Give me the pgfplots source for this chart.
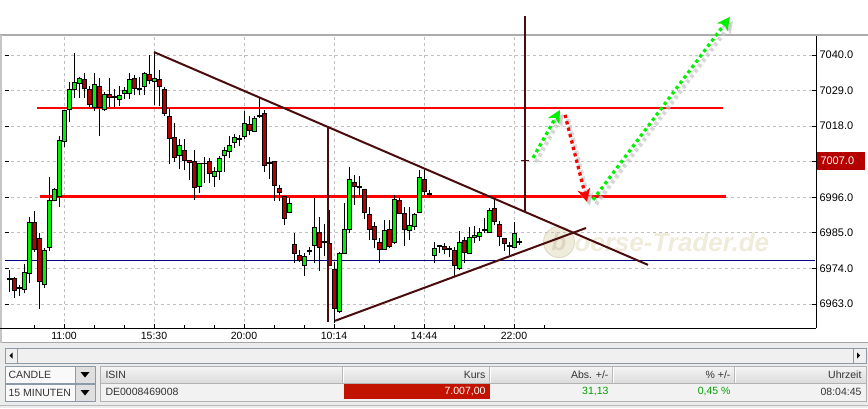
\documentclass[border=0pt]{standalone}
\usepackage{pgfplots}
\pgfplotsset{compat=1.18}
\usepackage{pgfplotstable}
\usepackage{fontspec}
\setmainfont{Liberation Sans}
\usetikzlibrary{arrows.meta}

\definecolor{cgreen}{HTML}{00F000}
\definecolor{cred}{HTML}{B40000}
\definecolor{trend}{HTML}{4A0C0C}
\definecolor{hred}{HTML}{FF0000}
\definecolor{navyline}{HTML}{000080}
\definecolor{gridc}{HTML}{C0C0C0}
\definecolor{panel}{HTML}{ECECEC}
\definecolor{uiborder}{HTML}{8C9AA8}
\definecolor{kursred}{HTML}{C21200}
\definecolor{txtgreen}{HTML}{00A000}
\definecolor{txtgray}{HTML}{333333}
\definecolor{wm}{HTML}{F0ECDC}
\definecolor{wmline}{HTML}{DDD6C0}

% i  open high low close  (green / doji)
\pgfplotstableread{
i o h l c
0 6970.5 6973.5 6966.8 6970.8
2 6967.9 6968.9 6965.5 6968.2
3 6967.5 6975.4 6966.3 6972.8
4 6972.5 6990.0 6969.4 6988.3
7 6969.1 6980.2 6967.9 6979.5
8 6980.4 7002.4 6979.5 6995.0
9 6995.0 6998.8 6994.7 6998.3
10 6996.2 7014.8 6993.1 7013.7
11 7013.2 7023.0 7011.5 7022.7
12 7023.2 7031.8 7019.4 7029.4
13 7029.4 7040.5 7026.6 7031.6
14 7031.2 7033.3 7026.6 7032.8
17 7023.8 7034.3 7022.8 7030.9
19 7023.0 7028.7 7022.7 7027.8
21 7026.9 7029.4 7024.0 7027.2
22 7026.3 7030.4 7024.2 7027.6
23 7028.2 7030.2 7026.5 7029.1
24 7028.2 7034.5 7026.5 7032.5
26 7029.4 7033.1 7027.6 7029.7
27 7030.4 7034.6 7027.6 7034.3
29 7031.8 7040.5 7024.5 7032.8
34 7009.0 7013.9 7004.7 7012.1
38 6999.3 7006.7 6997.2 7006.5
39 7006.3 7008.6 7000.5 7006.6
41 7002.4 7005.5 6999.3 7003.9
42 7003.9 7008.8 7001.4 7008.1
43 7008.9 7011.7 7003.9 7010.6
44 7010.3 7014.8 7008.1 7012.1
45 7013.0 7015.6 7011.1 7014.6
46 7014.0 7015.3 7011.9 7014.3
47 7014.8 7022.7 7013.9 7018.9
49 7016.3 7021.1 7016.2 7020.3
50 7021.1 7027.1 7020.5 7021.4
52 7006.4 7008.6 7001.6 7006.7
56 6991.3 6996.2 6991.1 6994.1
59 6974.9 6978.7 6971.8 6977.7
60 6979.2 6980.5 6978.2 6979.5
61 6981.1 6995.7 6975.6 6986.7
63 6981.9 6987.8 6977.7 6982.2
66 6960.6 6979.0 6960.3 6978.7
67 6978.7 6994.1 6978.5 6986.1
68 6986.1 7005.5 6985.1 7001.4
70 6998.9 7002.6 6996.2 6999.2
75 6980.0 6989.0 6979.8 6985.7
77 6982.0 6996.7 6981.7 6995.2
80 6985.6 6992.9 6982.8 6987.4
81 6987.1 6991.0 6985.9 6990.7
82 6991.4 7004.4 6991.2 7002.2
84 6997.0 6998.3 6995.7 6997.3
85 6978.0 6982.3 6975.8 6980.2
86 6980.9 6981.3 6978.7 6981.2
88 6979.9 6981.0 6977.6 6980.2
90 6974.0 6985.7 6973.5 6982.1
92 6978.7 6986.9 6978.5 6983.6
93 6983.6 6987.1 6981.8 6984.3
94 6983.8 6986.4 6982.6 6985.2
95 6985.6 6989.5 6985.1 6985.9
96 6985.2 6992.6 6984.9 6991.8
100 6980.9 6982.3 6978.2 6981.2
101 6980.6 6988.3 6980.4 6984.9
102 6981.9 6983.3 6981.2 6982.2
}\upcandles

% red candles
\pgfplotstableread{
i o h l c
1 6971.0 6971.3 6964.8 6967.3
5 6988.3 6991.9 6979.2 6979.9
6 6983.3 6984.9 6961.4 6969.9
15 7032.5 7034.5 7026.6 7029.7
16 7029.2 7030.4 7024.0 7024.8
18 7030.4 7032.8 7015.0 7023.7
20 7027.8 7032.8 7024.0 7026.8
25 7032.8 7033.9 7027.6 7029.7
28 7034.1 7040.0 7030.9 7032.1
30 7032.5 7035.4 7024.2 7030.2
31 7029.4 7030.2 7021.1 7021.8
32 7021.1 7023.5 7006.3 7014.2
33 7014.6 7018.9 7007.0 7008.4
35 7010.6 7013.9 7004.4 7007.3
36 7007.3 7007.5 7001.4 7006.7
37 7007.0 7010.6 6995.2 6999.1
40 7007.1 7008.1 7000.5 7003.4
48 7018.6 7021.1 7015.3 7016.6
51 7022.0 7023.0 7003.9 7005.8
53 7007.0 7007.3 6994.7 6999.5
54 6998.8 6999.8 6994.7 6997.4
55 6996.2 6996.5 6987.4 6989.5
57 6981.3 6985.1 6975.8 6978.7
58 6977.9 6979.7 6976.1 6976.3
62 6985.2 6990.0 6973.3 6980.5
64 6981.8 6992.1 6974.6 6974.8
65 6973.7 6976.0 6957.0 6961.7
69 7000.6 7002.9 6993.6 6999.3
71 6998.3 6998.5 6989.2 6991.2
72 6990.7 6993.1 6982.8 6986.1
73 6986.9 6988.5 6980.2 6983.0
74 6982.1 6983.3 6975.6 6979.7
76 6986.1 6989.0 6980.2 6980.7
78 6994.9 6996.2 6990.8 6991.1
79 6991.1 6993.1 6980.9 6986.1
83 7001.6 7005.0 6996.7 6997.8
87 6980.9 6982.0 6978.5 6979.9
89 6979.4 6980.7 6971.7 6974.8
91 6982.6 6983.8 6975.6 6979.0
97 6992.4 6995.5 6987.4 6988.5
98 6987.7 6988.8 6981.0 6984.0
99 6983.3 6983.5 6979.5 6981.6
}\downcandles

\pgfplotsset{
  candlebase/.style={only marks, mark=*, mark size=0pt,
    mark options={draw=none, fill=none}, forget plot,
    error bars/.cd, y dir=plus, y explicit, error mark=none},
  wick/.style={candlebase, /pgfplots/error bars/error bar style={draw=black, line width=1pt}},
  bodyout/.style={candlebase, /pgfplots/error bars/error bar style={draw=black, line width=5pt}},
  bodyfill/.style={candlebase, /pgfplots/error bars/error bar style={draw=#1, line width=3pt}},
}

\begin{document}
\begin{tikzpicture}[x=1pt,y=1pt]
\useasboundingbox (0,0) rectangle (868,408);
\fill[white] (0,0) rectangle (868,408);
% bottom panel
\fill[panel] (0,0) rectangle (868,65);
\draw[gray!70, line width=1pt] (0,65.5) -- (868,65.5);
% chart frame lines
\draw[gray!65, line width=1.6pt] (0,373) -- (868,373);
\draw[gray!45, line width=1.5pt] (1,65) -- (1,373);

% watermark
\fill[wm] (559,166) circle (15.5);
\draw[wmline, line width=0.8pt] (559,166) circle (15.5);
\node[wm, font=\fontsize{26}{28}\selectfont\bfseries\itshape, anchor=west] at (571,166) {oerse-Trader.de};
\node[wmline, font=\fontsize{24}{26}\selectfont\bfseries\itshape] at (559,166) {b};

\begin{axis}[
  at={(5pt,80pt)}, anchor=south west, scale only axis,
  width=811pt, height=293pt,
  xmin=-0.8, xmax=161.4, ymin=6955.58, ymax=7046.18,
  clip=false,
  axis line style={draw=none},
  xtick={11,29,47,65,83,101},
  xticklabels={11:00,15:30,20:00,10:14,14:44,22:00},
  minor xtick={5,17,23,35,41,53,59,71,77,89,95,107},
  ytick={6963,6974,...,7040},
  xtick pos=left, ytick pos=both, yticklabel pos=right,
  tick align=inside, major tick length=4pt, minor tick length=3pt,
  tick style={black, line width=0.8pt},
  xmajorgrids, ymajorgrids,
  major grid style={gridc, dash pattern=on 3pt off 3pt, line width=0.8pt},
  /pgf/number format/.cd, fixed, fixed zerofill, precision=1, 1000 sep={}, assume math mode=true,
  /pgfplots/.cd,
  yticklabel style={font=\fontsize{11}{13}\selectfont, xshift=0pt},
  xticklabel style={font=\fontsize{10.5}{12}\selectfont, yshift=-1pt},
]
% reference lines
\addplot[navyline, line width=1.2pt, forget plot] coordinates {(-0.8,6976.4) (161.2,6976.4)};
\addplot[hred, line width=2.3pt, forget plot] coordinates {(5.6,7023.7) (142.8,7023.7)};
\addplot[hred, line width=2.3pt, forget plot] coordinates {(6.2,6996.2) (143.4,6996.2)};

% candles: wicks
\addplot[wick] table[x=i, y=l, y error expr=\thisrow{h}-\thisrow{l}] {\upcandles};
\addplot[wick] table[x=i, y=l, y error expr=\thisrow{h}-\thisrow{l}] {\downcandles};
% bodies
\addplot[bodyout] table[x=i, y expr={min(\thisrow{o},\thisrow{c})-0.155}, y error expr={abs(\thisrow{c}-\thisrow{o})+0.31}] {\upcandles};
\addplot[bodyout] table[x=i, y expr={min(\thisrow{o},\thisrow{c})-0.155}, y error expr={abs(\thisrow{c}-\thisrow{o})+0.31}] {\downcandles};
\addplot[bodyfill=cgreen] table[x=i, y expr={min(\thisrow{o},\thisrow{c})+0.155}, y error expr={max(abs(\thisrow{c}-\thisrow{o})-0.31,0)}] {\upcandles};
\addplot[bodyfill=cred] table[x=i, y expr={min(\thisrow{o},\thisrow{c})+0.155}, y error expr={max(abs(\thisrow{c}-\thisrow{o})-0.31,0)}] {\downcandles};

% trend lines
\addplot[trend, line width=2pt, forget plot] coordinates {(29.0,7040.9) (127.8,6975.1)};
\addplot[trend, line width=2pt, forget plot] coordinates {(65.2,6957.8) (115.4,6986.5)};
\addplot[trend, line width=2pt, forget plot] coordinates {(63.8,7017.7) (63.8,6957.4)};
\addplot[trend, line width=2pt, forget plot] coordinates {(103.2,7052.1) (103.2,6991.8)};
\addplot[trend, line width=1pt, forget plot] coordinates {(102.4,7007.5) (104.0,7007.5)};

% arrow shadows
\addplot[gray!45, opacity=0.7, line width=4.2pt, dash pattern=on 3.3pt off 3.3pt, -{Stealth[length=13pt,width=13pt,inset=4pt]}, forget plot] coordinates {(105.4,7006.9) (110.8,7021.8)};
\addplot[gray!45, opacity=0.7, line width=4.2pt, dash pattern=on 3.3pt off 3.3pt, -{Stealth[length=13pt,width=13pt,inset=4pt]}, forget plot] coordinates {(111.8,7020.2) (116.2,6993.3)};
\addplot[gray!45, opacity=0.7, line width=4.2pt, dash pattern=on 3.3pt off 3.3pt, -{Stealth[length=13pt,width=13pt,inset=4pt]}, forget plot] coordinates {(117.4,6993.9) (144.8,7050.5)};
% arrows
\addplot[cgreen, line width=3.3pt, dash pattern=on 3.3pt off 3.3pt, -{Stealth[length=13pt,width=13pt,inset=4pt]}, forget plot] coordinates {(104.8,7008.2) (110.2,7023.0)};
\addplot[hred, line width=3.3pt, dash pattern=on 3.3pt off 3.3pt, -{Stealth[length=13pt,width=13pt,inset=4pt]}, forget plot] coordinates {(111.2,7021.5) (115.6,6994.6)};
\addplot[cgreen, line width=3.3pt, dash pattern=on 3.3pt off 3.3pt, -{Stealth[length=13pt,width=13pt,inset=4pt]}, forget plot] coordinates {(116.8,6995.2) (144.2,7051.8)};
\end{axis}

% axis lines
\draw[black, line width=1pt] (0,80) -- (816,80);
\draw[black, line width=1pt] (816,80) -- (816,372);
% current price label
\fill[cred] (816.7,238) rectangle (865,255.7);
\node[white, anchor=west, font=\fontsize{11}{13}\selectfont, inner sep=0pt] at (820.3,246.8) {7007.0};

% scrollbar
\fill[gray!12] (5,45) rectangle (866,60);
\draw[uiborder, line width=0.8pt] (5,45) rectangle (866,60);
\draw[uiborder, line width=0.6pt] (17,45) -- (17,60);
\draw[uiborder, line width=0.6pt] (853,45) -- (853,60);
\fill[black] (9.5,52.5) -- (12.5,55.5) -- (12.5,49.5) -- cycle;
\fill[black] (860,52.5) -- (857,55.5) -- (857,49.5) -- cycle;

% dropdowns
\fill[gray!5] (5,25) rectangle (75,42);
\draw[uiborder, line width=0.8pt] (5,25) rectangle (75,42);
\fill[gray!25] (75,25) rectangle (95,42);
\draw[uiborder, line width=0.8pt] (75,25) rectangle (95,42);
\fill[black] (80.5,36) -- (89.5,36) -- (85,30.5) -- cycle;
\node[txtgray, anchor=west, font=\fontsize{10.5}{12}\selectfont] at (5,33.5) {CANDLE};

\fill[gray!5] (5,7) rectangle (75,24);
\draw[uiborder, line width=0.8pt] (5,7) rectangle (75,24);
\fill[gray!25] (75,7) rectangle (95,24);
\draw[uiborder, line width=0.8pt] (75,7) rectangle (95,24);
\fill[black] (80.5,18) -- (89.5,18) -- (85,12.5) -- cycle;
\node[txtgray, anchor=west, font=\fontsize{10.5}{12}\selectfont] at (5,15.5) {15 MINUTEN};

% table
\shade[top color=gray!8, bottom color=gray!28] (100,25) rectangle (866,42);
\fill[gray!10] (100,7) rectangle (866,25);
\fill[kursred] (344,9) rectangle (490,24.5);
\draw[gray!60, line width=0.8pt] (100,7) rectangle (866,42);
\draw[gray!60, line width=0.6pt] (100,25) -- (866,25);
\foreach \xx in {343,490,613,735} \draw[white, line width=1pt] (\xx,25.5) -- (\xx,41.5);
\foreach \xx in {342,489,612,734} \draw[gray!55, line width=0.6pt] (\xx,25.5) -- (\xx,41.5);
\node[txtgray, anchor=west, font=\fontsize{10.5}{12}\selectfont] at (102,33.5) {ISIN};
\node[txtgray, anchor=east, font=\fontsize{10.5}{12}\selectfont] at (489,33.5) {Kurs};
\node[txtgray, anchor=east, font=\fontsize{10.5}{12}\selectfont] at (612,33.5) {Abs. +/-};
\node[txtgray, anchor=east, font=\fontsize{10.5}{12}\selectfont] at (734,33.5) {\% +/-};
\node[txtgray, anchor=east, font=\fontsize{10.5}{12}\selectfont] at (865,33.5) {Uhrzeit};
\node[txtgray, anchor=west, font=\fontsize{10.5}{12}\selectfont] at (102,16) {DE0008469008};
\node[white, anchor=east, font=\fontsize{10.5}{12}\selectfont] at (489,16) {7.007,00};
\node[txtgreen, anchor=east, font=\fontsize{10.5}{12}\selectfont] at (612,16) {31,13};
\node[txtgreen, anchor=east, font=\fontsize{10.5}{12}\selectfont] at (734,16) {0,45 \%};
\node[txtgray, anchor=east, font=\fontsize{10.5}{12}\selectfont] at (865,16) {08:04:45};
\draw[gray!55, line width=0.8pt] (0,2.5) -- (868,2.5);
\end{tikzpicture}
\end{document}
